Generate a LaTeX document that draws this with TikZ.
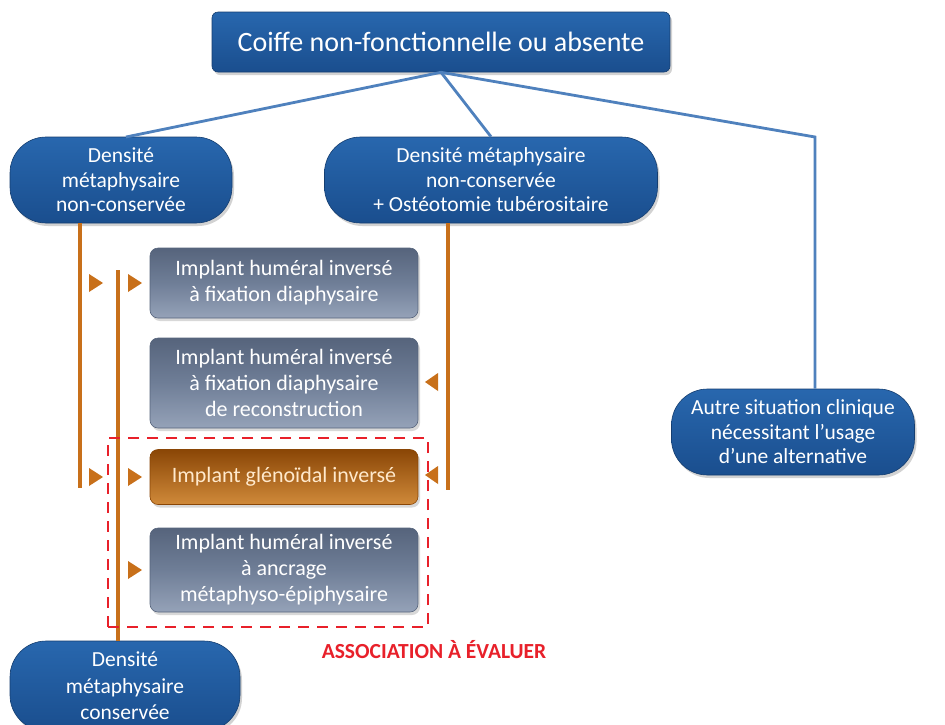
\documentclass[tikz,border=0pt]{standalone}
\usepackage{fontspec}
\setmainfont{Carlito}
\usetikzlibrary{shadows,calc}
\definecolor{blA}{HTML}{2867AE}
\definecolor{blB}{HTML}{1A4E8E}
\definecolor{blD}{HTML}{153E70}
\definecolor{lineblue}{HTML}{4F81BD}
\definecolor{grA}{HTML}{56647C}
\definecolor{grM}{HTML}{6F7E97}
\definecolor{grB}{HTML}{95A2B8}
\definecolor{orA}{HTML}{8A4606}
\definecolor{orM}{HTML}{B4610E}
\definecolor{orB}{HTML}{D08A3A}
\definecolor{orline}{HTML}{C8701A}
\definecolor{orText}{HTML}{FFE9CC}
\definecolor{redlab}{HTML}{E8202A}
\tikzset{
  bluebox/.style={draw=blD, line width=0.6pt, top color=blA, bottom color=blB, text=white,
    align=center, inner sep=0pt, drop shadow={opacity=0.35, shadow xshift=2pt, shadow yshift=-3pt},
    font=\fontsize{21.5}{24.5}\selectfont},
  pill/.style={bluebox, rounded corners=36pt},
  implantbox/.style={draw=grA, line width=0.6pt, top color=grA, bottom color=grB, middle color=grM,
    text=white, align=center, inner sep=0pt, rounded corners=8pt, minimum width=268pt,
    drop shadow={opacity=0.3, shadow xshift=2pt, shadow yshift=-3pt},
    font=\fontsize{22}{26}\selectfont},
  orangebox/.style={implantbox, draw=orA, top color=orA, middle color=orM, bottom color=orB, text=orText},
  bconn/.style={draw=lineblue, line width=2.8pt},
  oconn/.style={draw=orline, line width=3.2pt},
  otri/.style={fill=orline},
}
\begin{document}
\begin{tikzpicture}[x=1pt,y=-1pt]
\useasboundingbox[fill=white] (0,0) rectangle (945,724);

\node[bluebox, rounded corners=6pt, minimum width=458pt, minimum height=60pt, font=\fontsize{28}{32}\selectfont]
  (T) at (441,42) {Coiffe non-fonctionnelle ou absente};
\node[pill, minimum width=222pt, minimum height=86pt] (L) at (121,180) {Densité\\métaphysaire\\non-conservée};
\node[pill, minimum width=333pt, minimum height=86pt] (M) at (491,180) {Densité métaphysaire\\non-conservée\\+ Ostéotomie tubérositaire};
\node[pill, minimum width=243pt, minimum height=86pt] (R) at (793,432) {Autre situation clinique\\nécessitant l’usage\\d’une alternative};
\node[pill, minimum width=230pt, minimum height=90pt, font=\fontsize{21.5}{26.5}\selectfont] (B) at (125,686) {Densité\\métaphysaire\\conservée};

\coordinate (tl) at (126,137);
\coordinate (tr) at (815,137);
\draw[bconn] (T.south) -- (tl);
\draw[bconn] (T.south) -- (M.north);
\draw[bconn] (T.south) -- (tr) -- (tr |- R.north);

\node[implantbox, minimum height=70pt] (I1) at (284,283) {Implant huméral inversé\\à fixation diaphysaire};
\node[implantbox, minimum height=90pt] (I2) at (284,383) {Implant huméral inversé\\à fixation diaphysaire\\de reconstruction};
\node[orangebox, minimum height=55pt] (G) at (284,477) {Implant glénoïdal inversé};
\node[implantbox, minimum height=84pt] (I4) at (284,570) {Implant huméral inversé\\à ancrage\\métaphyso-épiphysaire};

% orange lines
\coordinate (o1b) at (80,488);
\coordinate (o2t) at (118,270);
\coordinate (o3b) at (448,490);
\draw[oconn] (L.south -| o1b) -- (o1b);
\draw[oconn] (o2t) -- (B.north -| o2t);
\draw[oconn] (M.south -| o3b) -- (o3b);

% triangles
\foreach \y in {283,477}{
  \fill[otri] (89,\y-9) -- (103,\y) -- (89,\y+9) -- cycle;
}
\foreach \y in {283,477,570}{
  \fill[otri] (128,\y-9) -- (142,\y) -- (128,\y+9) -- cycle;
}
\foreach \y in {382,475}{
  \fill[otri] (438,\y-9) -- (425,\y) -- (438,\y+9) -- cycle;
}

% dashed association box
\node[draw=redlab, line width=2.8pt, dash pattern=on 11pt off 8pt, minimum width=320pt, minimum height=189pt, inner sep=0pt]
  (A) at (268,532.5) {};
\node[text=redlab, font=\fontsize{21.5}{24}\selectfont\bfseries] (AL) at (434,650) {ASSOCIATION À ÉVALUER};
\end{tikzpicture}
\end{document}
